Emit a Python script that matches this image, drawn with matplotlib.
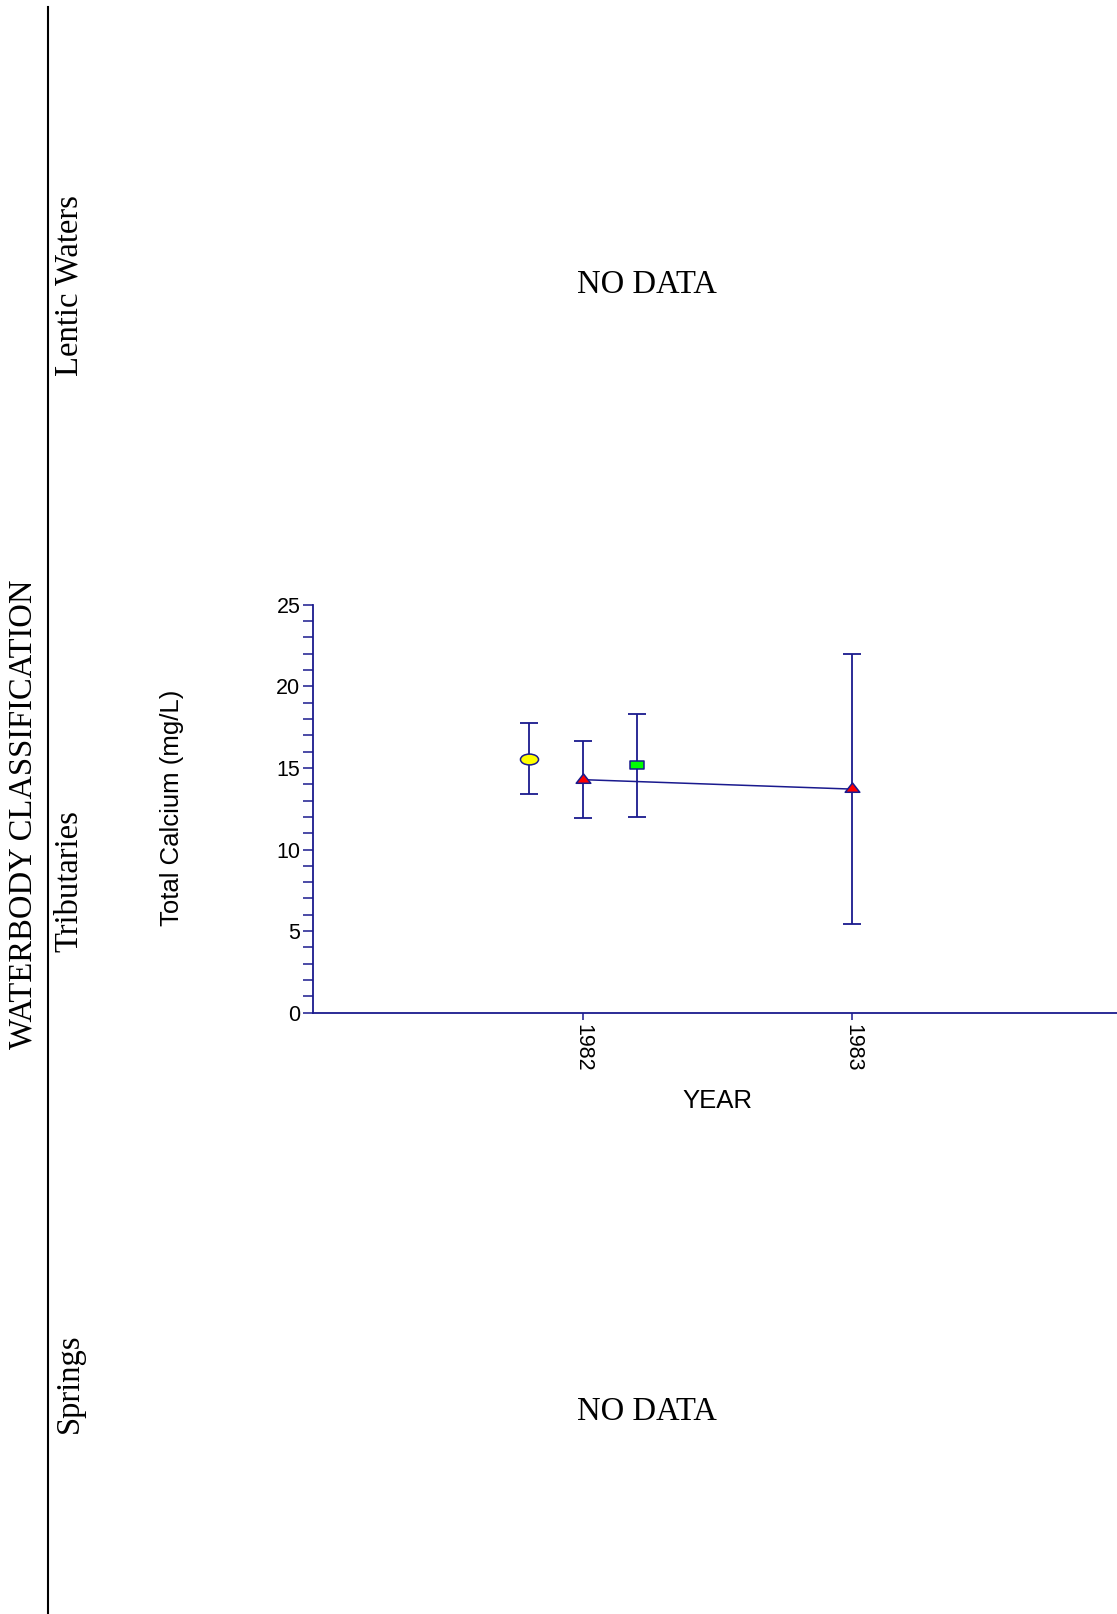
import matplotlib
matplotlib.use("Agg")
import matplotlib.pyplot as plt
from matplotlib.path import Path
from matplotlib.markers import MarkerStyle
from matplotlib.lines import Line2D
from matplotlib.transforms import Affine2D
import numpy as np

# Total calcium (mg/L) for tributaries: mean with low/high range per year
circle_year = [1981.8]
circle_mean = [15.56]
circle_low = [13.38]
circle_high = [17.77]

triangle_year = [1982, 1983]
triangle_mean = [14.28, 13.70]
triangle_low = [11.93, 5.42]
triangle_high = [16.65, 22.00]

square_year = [1982.2]
square_mean = [15.16]
square_low = [12.01]
square_high = [18.32]

year_ticks = [1982, 1983]
year_labels = ["1982", "1983"]
calcium_ticks = [0, 5, 10, 15, 20, 25]

panel_names = ["Lentic Waters", "Tributaries", "Springs"]
no_data_text = "NO DATA"

NAVY = "#1a1a8e"
SERIF = ["Liberation Serif", "DejaVu Serif"]
SANS = ["Liberation Sans", "DejaVu Sans"]

W, H = 1117, 1614
fig = plt.figure(figsize=(W / 100, H / 100), dpi=100)


def fx(px):
    return px / W


def fy(py):
    return 1 - py / H


# flattened marker shapes
ellipse_path = Path.unit_circle().transformed(Affine2D().scale(1.0, 0.6))
square_path = Path([(-1, -0.59), (1, -0.59), (1, 0.59), (-1, 0.59), (-1, -0.59)],
                   [Path.MOVETO, Path.LINETO, Path.LINETO, Path.LINETO, Path.CLOSEPOLY])
triangle_path = Path([(-0.5, -0.19), (0.5, -0.19), (0.0, 0.45), (-0.5, -0.19)],
                     [Path.MOVETO, Path.LINETO, Path.LINETO, Path.CLOSEPOLY])

ax = fig.add_axes([fx(312.7), fy(1012.7), 1 - fx(312.7), 408 / H])
ax.set_xlim(1981, 1983.98)
ax.set_ylim(0, 25)

for s in ("top", "right"):
    ax.spines[s].set_visible(False)
for s in ("left", "bottom"):
    ax.spines[s].set_color(NAVY)
    ax.spines[s].set_linewidth(1.3)

err_kw = dict(fmt="none", ecolor=NAVY, elinewidth=1.3, capsize=6.5, capthick=1.3, zorder=2)
for xs, m, lo, hi in [(circle_year, circle_mean, circle_low, circle_high),
                      (triangle_year, triangle_mean, triangle_low, triangle_high),
                      (square_year, square_mean, square_low, square_high)]:
    m = np.asarray(m)
    ax.errorbar(xs, m, yerr=[m - np.asarray(lo), np.asarray(hi) - m], **err_kw)

ax.plot(triangle_year, triangle_mean, color=NAVY, lw=1.1, zorder=3)
ax.plot(triangle_year, triangle_mean, ls="none", marker=MarkerStyle(triangle_path),
        ms=10.5, mfc="#ff0000", mec=NAVY, mew=1.1, zorder=4)
ax.plot(circle_year, circle_mean, ls="none", marker=MarkerStyle(ellipse_path),
        ms=13, mfc="#ffff00", mec=NAVY, mew=1.1, zorder=4)
ax.plot(square_year, square_mean, ls="none", marker=MarkerStyle(square_path),
        ms=9.6, mfc="#00ff00", mec=NAVY, mew=1.1, zorder=4)

ax.set_yticks(calcium_ticks)
ax.set_yticks(np.arange(0, 26, 1), minor=True)
ax.set_xticks(year_ticks)
ax.set_xticklabels(year_labels, rotation=-90)
ax.tick_params(axis="y", which="both", direction="out", length=7.4, width=1.1,
               color=NAVY, pad=1.5, labelsize=15.5)
ax.tick_params(axis="x", which="major", direction="out", length=5, width=1.1,
               color=NAVY, pad=3, labelsize=15.5)
for lab in ax.get_xticklabels() + ax.get_yticklabels():
    lab.set_fontfamily(SANS)

ax.set_ylabel("Total Calcium (mg/L)", fontsize=18.5, family=SANS)
ax.yaxis.label.set_va("center")
ax.yaxis.label.set_ha("center")
ax.yaxis.set_label_coords((172 - 312.7) / (W - 312.7), (1012.7 - 808) / 408)
ax.set_xlabel("YEAR", fontsize=18.5, family=SANS)
ax.xaxis.label.set_va("center")
ax.xaxis.set_label_coords((717.7 - 312.7) / (W - 312.7), (1012.7 - 1101.5) / 408)

# panel separator line
fig.add_artist(Line2D([fx(48.3), fx(48.3)], [0, fy(7)], color="black", lw=1.5))

fig.text(fx(23.5), fy(814), "WATERBODY CLASSIFICATION", rotation=90, ha="center",
         va="center", fontsize=23.5, family=SERIF)
for name, yc in zip(panel_names, [286, 881, 1383]):
    fig.text(fx(69.5), fy(yc), name, rotation=90, ha="center", va="center",
             fontsize=23.5, family=SERIF)

for yc in [285, 1412]:
    fig.text(fx(647), fy(yc), no_data_text, ha="center", va="center",
             fontsize=23.5, family=SERIF)

fig.savefig("out.png", dpi=100)
